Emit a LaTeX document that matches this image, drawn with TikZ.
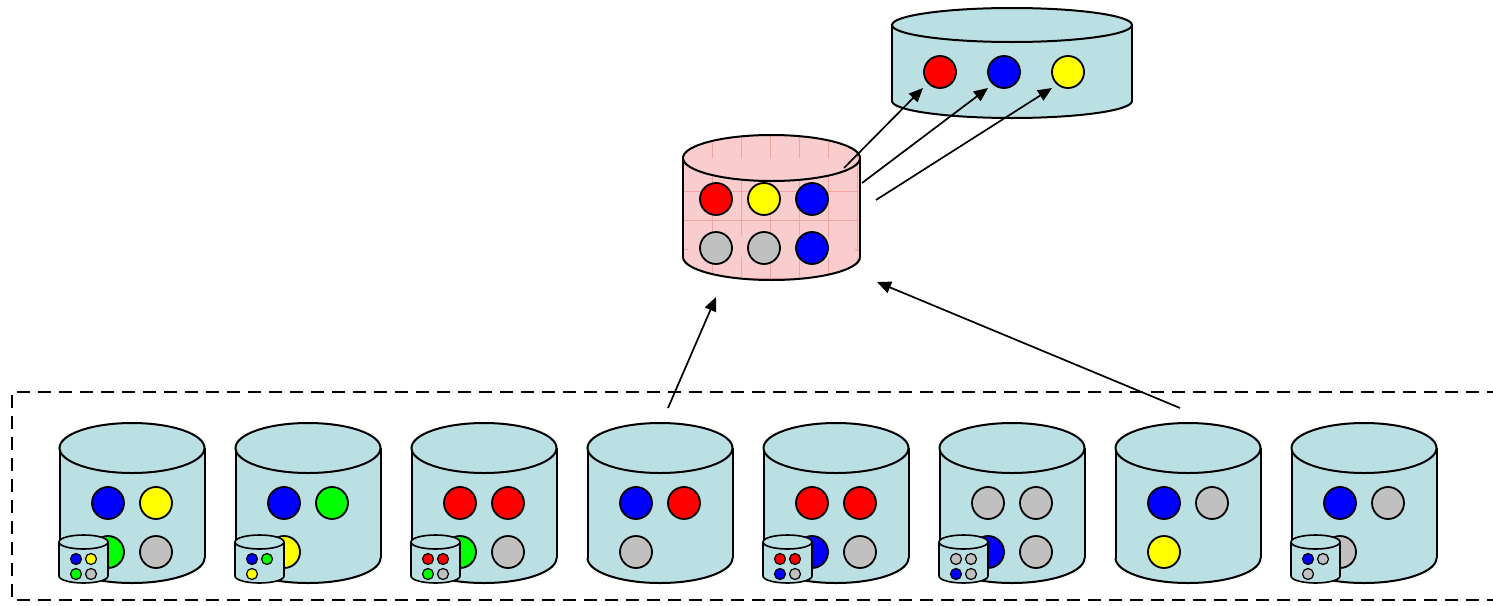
\documentclass[tikz,border=0pt]{standalone}
\usetikzlibrary{arrows.meta}
\definecolor{cylfill}{HTML}{BBE0E3}
\definecolor{pinkfill}{HTML}{F9CDCD}
\definecolor{gridred}{HTML}{F4A3A3}
\definecolor{bred}{HTML}{FF0000}
\definecolor{byellow}{HTML}{FFFF00}
\definecolor{bblue}{HTML}{0000FF}
\definecolor{bgreen}{HTML}{00FF00}
\definecolor{bgray}{HTML}{C0C0C0}
\tikzset{
  b-red/.style={fill=bred, draw=black},
  b-yellow/.style={fill=byellow, draw=black},
  b-blue/.style={fill=bblue, draw=black},
  b-green/.style={fill=bgreen, draw=black},
  b-gray/.style={fill=bgray, draw=black},
  b-none/.style={draw=none, fill=none},
  bigball/.style={line width=1.8pt},
  smallball/.style={line width=1.2pt},
  flow/.style={line width=1.7pt, -{Triangle[length=14pt,width=12pt]}},
  groupbox/.style={line width=2.6pt, dash pattern=on 13pt off 8pt},
}
% cx, yt, yb, rx, ry, fill, line width
\newcommand\dbcyl[7]{%
  \fill[#6] (#1,#3) ellipse [x radius=#4, y radius=#5];
  \fill[#6] ({#1-#4},#2) rectangle ({#1+#4},#3);
  \begin{scope}
    \clip ({#1-#4-4},#3) rectangle ({#1+#4+4},{#3+#5+4});
    \draw[line width=#7] (#1,#3) ellipse [x radius=#4, y radius=#5];
  \end{scope}
  \draw[line width=#7] ({#1-#4},#2) -- ({#1-#4},#3) ({#1+#4},#2) -- ({#1+#4},#3);
  \filldraw[fill=#6, draw=black, line width=#7] (#1,#2) ellipse [x radius=#4, y radius=#5];
}
\begin{document}
\begin{tikzpicture}[x=1pt,y=-1pt]
\useasboundingbox (0,0) rectangle (1493,605);
\clip (0,0) rectangle (1493,605);

% group box (open to the right)
\draw[groupbox] (1500,392) -- (12,392) -- (12,600) -- (1500,600);

% bottom cylinders
\foreach \c/\a/\b/\d/\e/\s in {132/blue/yellow/green/gray/1, 308/blue/green/yellow/none/1,
  484/red/red/green/gray/1, 660/blue/red/gray/none/0, 836/red/red/blue/gray/1,
  1012/gray/gray/blue/gray/1, 1188/blue/gray/yellow/none/0, 1364/blue/gray/gray/none/1}{
  \dbcyl{\c}{448}{558}{72.5}{25}{cylfill}{2pt}
  \path[bigball,b-\a] ({\c-24},503) circle [radius=16];
  \path[bigball,b-\b] ({\c+24},503) circle [radius=16];
  \path[bigball,b-\d] ({\c-24},552) circle [radius=16];
  \path[bigball,b-\e] ({\c+24},552) circle [radius=16];
  \ifnum\s=1
    \dbcyl{\c-48.5}{542}{576}{24.5}{7}{cylfill}{1.6pt}
    \path[smallball,b-\a] ({\c-56},559) circle [radius=5.5];
    \path[smallball,b-\b] ({\c-41},559) circle [radius=5.5];
    \path[smallball,b-\d] ({\c-56},574) circle [radius=5.5];
    \path[smallball,b-\e] ({\c-41},574) circle [radius=5.5];
  \fi
}

% middle (pink) cylinder with grid
\begin{scope}
  \fill[pinkfill] (771.5,257) ellipse [x radius=88.5, y radius=23];
  \fill[pinkfill] (683,158) rectangle (860,257);
  \fill[pinkfill] (771.5,158) ellipse [x radius=88.5, y radius=23];
  \begin{scope}
    \clip (771.5,257) ellipse [x radius=88.5, y radius=23] (683,158) rectangle (860,257)
          (771.5,158) ellipse [x radius=88.5, y radius=23];
    \foreach \gx in {683,712,741,770,799,828,857}
      \draw[gridred, line width=0.5pt] (\gx,130) -- (\gx,285);
    \foreach \gy in {133,162,191,220,249,278}
      \draw[gridred, line width=0.5pt] (680,\gy) -- (865,\gy);
  \end{scope}
  \begin{scope}
    \clip (679,257) rectangle (864,285);
    \draw[line width=2pt] (771.5,257) ellipse [x radius=88.5, y radius=23];
  \end{scope}
  \draw[line width=2pt] (683,158) -- (683,257) (860,158) -- (860,257);
  \draw[line width=2pt] (771.5,158) ellipse [x radius=88.5, y radius=23];
\end{scope}
\foreach \x/\y/\col in {716/199/red, 764/199/yellow, 812/199/blue, 716/248/gray, 764/248/gray, 812/248/blue}
  \path[bigball,b-\col] (\x,\y) circle [radius=16];

% top cylinder
\dbcyl{1012}{25}{101}{120}{17}{cylfill}{2pt}
\foreach \x/\col in {940/red, 1004/blue, 1068/yellow}
  \path[bigball,b-\col] (\x,72) circle [radius=16];

% connector end points
\coordinate (m1) at (844,168);
\coordinate (m2) at (862,183);
\coordinate (m3) at (876,200);
\coordinate (t1) at (923,88);
\coordinate (t2) at (988,88);
\coordinate (t3) at (1052,88);
\coordinate (b4) at (668,408);
\coordinate (b7) at (1180,408);
\coordinate (mb1) at (716,297);
\coordinate (mb2) at (877,282);

\draw[flow] (m1) -- (t1);
\draw[flow] (m2) -- (t2);
\draw[flow] (m3) -- (t3);
\draw[flow] (b4) -- (mb1);
\draw[flow] (b7) -- (mb2);
\end{tikzpicture}
\end{document}
